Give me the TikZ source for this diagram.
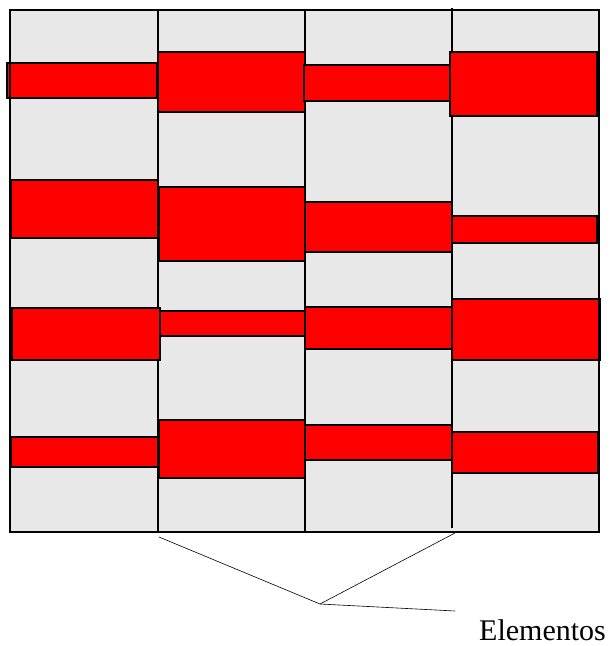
\documentclass[tikz,border=0pt]{standalone}
\usepackage{fontspec}
\setmainfont{Liberation Serif}
\usetikzlibrary{positioning}

\definecolor{tejido}{RGB}{232,232,232}

\begin{document}
\begin{tikzpicture}[
          x=1pt, y=-1pt,
          borde/.style={draw=black, line width=1.2pt},
          barra/.style={fill=red, draw=black, line width=1.3pt},
          guia/.style={draw=black, line width=0.6pt},
        ]
          \useasboundingbox (0,0) rectangle (614,646);
          \fill[tejido] (10,10) rectangle (599,532);
          % separaciones
          \draw[borde] (158,10)--(158,532);
          \draw[borde] (305,10)--(305,532);
          \draw[borde] (452,8)--(452,528);
          % columna 1
          \draw[barra] (7,63) rectangle (157,98);
          \draw[barra] (11,180) rectangle (158,238);
          \draw[barra] (12,308) rectangle (160,360);
          \draw[barra] (11,437) rectangle (158,467);
          % columna 2
          \draw[barra] (158,52) rectangle (305,112);
          \draw[barra] (159,187) rectangle (305,261);
          \draw[barra] (160,311) rectangle (305,336);
          \draw[barra] (159,420) rectangle (305,478);
          % columna 3
          \draw[barra] (304,65) rectangle (450,101);
          \draw[barra] (305,202) rectangle (452,252);
          \draw[barra] (305,307) rectangle (452,349);
          \draw[barra] (305,425) rectangle (452,460);
          % columna 4
          \draw[barra] (450,52) rectangle (597,116);
          \draw[barra] (452,216) rectangle (597,243);
          \draw[barra] (452,299) rectangle (600,360);
          \draw[barra] (452,432) rectangle (598,473);
          \draw[borde] (10,10) rectangle (599,532);
          % leyenda
          \coordinate (c1) at (159,537);
          \coordinate (c3) at (455,533);
          \coordinate (v) at (320,604);
          \coordinate (f) at (455,611);
          \node[anchor=base west, inner sep=0pt, font=\fontsize{30}{33}\selectfont]
                (el) at (479,640) {Elementos};
          \draw[guia] (c1)--(v)--(c3);
          \draw[guia] (v)--(f);
        \end{tikzpicture}
\end{document}
